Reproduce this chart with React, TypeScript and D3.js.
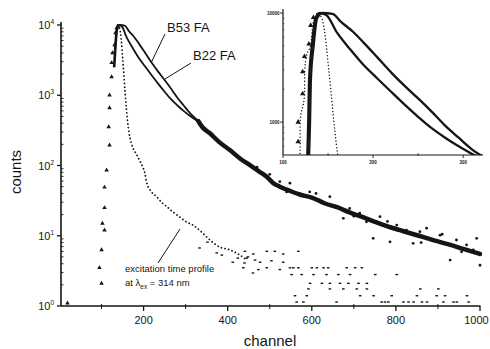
import React from 'react';
import * as d3 from 'd3';

const W = 490;
const H = 349;

// ---- data (channel, counts) ----
const xTicks = [200, 400, 600, 800, 1000];
const xMinorTicks = [100, 300, 500, 700, 900];
const yDecades = [0, 1, 2, 3, 4];

const b53Head: [number, number][] = [
  [129, 2500], [132, 5000], [136, 9000], [141, 10000], [148, 9600],
  [160, 6600], [175, 4600], [190, 3300], [205, 2500], [220, 1900], [235, 1450],
  [250, 1120], [265, 880], [280, 720], [295, 600], [310, 510], [330, 420],
];
const b22Head: [number, number][] = [
  [131, 2500], [134, 5000], [138, 9000], [144, 10000], [155, 9800],
  [165, 8200], [178, 6700], [190, 5300], [205, 3900], [221, 2800], [235, 2150],
  [250, 1650], [265, 1250], [280, 930], [295, 720], [310, 560], [330, 430],
];
const decayTail: [number, number][] = [
  [340, 350], [357, 290], [380, 215], [405, 166], [430, 125], [452, 102],
  [475, 82], [493, 69], [507, 57], [524, 50], [550, 43], [575, 38], [600, 35],
  [630, 29], [660, 25.5], [690, 21.5], [720, 18.5], [750, 15.8], [780, 13.6],
  [810, 12], [840, 10.6], [870, 9.4], [900, 8.3], [930, 7.4], [960, 6.5], [1000, 5.5],
];
const decayScatter: [number, number][] = [
  [524, 59], [548, 56], [571, 40], [595, 42], [619, 32], [643, 36], [659, 26],
  [675, 17.7], [690, 24.5], [714, 21], [730, 15.8], [746, 9.2], [762, 18.7],
  [786, 8.2], [802, 14.2], [825, 12], [841, 7.8], [857, 11.4], [873, 12.8],
  [885, 8.7], [905, 10.2], [929, 4.5], [944, 8.7], [956, 5.9], [968, 7.4],
  [984, 6.3], [1000, 3.8], [992, 9.2], [470, 95], [500, 75], [540, 42], [610, 40],
  [700, 19], [780, 16], [860, 8], [910, 10.5],
];

const excRise: [number, number][] = [
  [19, 1.1], [95, 3.5], [100, 2.1], [100, 6.3], [102, 15], [107, 12], [107, 25],
  [107, 49], [112, 86], [119, 195], [117, 355], [119, 660], [119, 1000],
  [124, 1820], [124, 2900], [126, 4000], [131, 5200], [133, 7700], [136, 9100],
];
const excFall: [number, number][] = [
  [138, 10000], [143, 9000], [147, 6000], [150, 3500], [153, 2000], [156, 1100],
  [159, 650], [162, 420], [166, 280], [170, 215], [176, 170], [183, 145],
  [190, 120], [198, 95], [203, 78], [207, 58], [219, 42], [231, 36], [245, 29],
  [255, 26], [269, 22], [286, 18.5], [302, 15.7], [317, 14.2], [333, 12],
  [350, 9.6], [364, 8.1], [381, 6.9], [405, 6.3], [429, 5.3], [445, 4.5],
];
const excNoise: [number, number][] = [
  [333, 6.7], [352, 8.1], [374, 5.7], [386, 5.3], [412, 4.2], [424, 4.8],
  [440, 4.1], [448, 5], [460, 2.95],
  [441, 6], [461, 5.5], [493, 6], [512, 6], [532, 5.5], [568, 6],
  [445, 4.8], [465, 4.5], [477, 4.2], [504, 4.4], [532, 4.2],
  [437, 3.5], [473, 3.3], [493, 3.5], [524, 3.3], [548, 3.5], [556, 3.5],
  [568, 3.5], [600, 3.5], [612, 3.5], [628, 3.5], [639, 3.5], [683, 3.5],
  [703, 3.5], [719, 3.5],
  [552, 2.8], [576, 2.8], [604, 2.8], [635, 2.8], [663, 2.8], [691, 2.8],
  [751, 2.8], [802, 2.8],
  [596, 2.1], [624, 2.1], [643, 2.1], [667, 2.1], [687, 2.1], [711, 2.1], [731, 2.1],
  [592, 1.75], [643, 1.75], [675, 1.75], [707, 1.75], [731, 1.75], [858, 1.75], [901, 1.75],
  [560, 1.4], [588, 1.4], [715, 1.4], [747, 1.4], [790, 1.4], [850, 1.4],
  [897, 1.4], [917, 1.4], [969, 1.4],
  [564, 1.14], [580, 1.14], [659, 1.14], [766, 1.14], [774, 1.14], [782, 1.14],
  [818, 1.14], [830, 1.14], [842, 1.14], [862, 1.14], [874, 1.14], [913, 1.14],
  [937, 1.14], [945, 1.14], [973, 1.14],
];

const insetXTicks = [100, 200, 300];
const insetXMinor = [150, 250];
const insetYTicks = [1000, 10000];

const INK = '#151515';
const FONT = '"Liberation Sans", Arial, Helvetica, sans-serif';

export default function App() {
  // main scales
  const x = d3.scaleLinear().domain([0, 1000]).range([59.5, 480]);
  const y = d3.scaleLog().domain([1, 10000]).range([306, 25]);
  const line = d3.line<[number, number]>().x((d) => x(d[0])).y((d) => y(d[1])).curve(d3.curveMonotoneX);

  // inset scales
  const xi = d3.scaleLinear().domain([100, 322]).range([283, 483]);
  const yi = d3.scaleLog().domain([500, 10000]).range([155, 13]);
  const lineI = d3.line<[number, number]>().x((d) => xi(d[0])).y((d) => yi(d[1])).curve(d3.curveMonotoneX);

  const riseI: [number, number][] = [[126, 300], [128, 1000]];
  const b53 = [...riseI, ...b53Head, ...decayTail];
  const b22 = [[128, 300], [130, 1000], ...b22Head, ...decayTail] as [number, number][];
  const excAll = [...excRise.filter((d) => d[0] > 110).sort((a, b) => a[0] - b[0]), ...excFall];

  const tri = d3.symbol().type(d3.symbolTriangle).size(9)();
  const triS = d3.symbol().type(d3.symbolTriangle).size(12)();

  const minorY: number[] = [];
  for (let e = 0; e < 4; e++) for (let m = 2; m <= 9; m++) minorY.push(m * Math.pow(10, e));
  const minorYi: number[] = [];
  for (let m = 6; m <= 9; m++) minorYi.push(m * 100);
  for (let m = 2; m <= 9; m++) minorYi.push(m * 1000);

  return (
    <svg width={W} height={H} style={{ position: 'absolute', left: 0, top: 0, background: '#fff' }} fontFamily={FONT}>
      <defs>
        <clipPath id="insetClip">
          <rect x={283} y={6} width={202} height={149} />
        </clipPath>
      </defs>

      {/* ---------- main plot ---------- */}
      <path d={line(b53Head) || ''} fill="none" stroke={INK} strokeWidth={1.8} />
      <path d={line(b22Head) || ''} fill="none" stroke={INK} strokeWidth={1.8} />
      <path d={line([b22Head[b22Head.length - 1], ...decayTail]) || ''} fill="none" stroke={INK} strokeWidth={4.5} strokeLinecap="round" />
      {decayScatter.map((d, i) => (
        <circle key={'ds' + i} cx={x(d[0])} cy={y(d[1])} r={1.4} fill={INK} />
      ))}

      {/* excitation profile */}
      {excRise.map((d, i) => (
        <path key={'er' + i} d={tri} transform={`translate(${x(d[0])},${y(d[1])})`} fill={INK} />
      ))}
      <path d={line(excFall) || ''} fill="none" stroke={INK} strokeWidth={1.8} strokeDasharray="0.1 3.6" strokeLinecap="round" />
      {excNoise.map((d, i) => (
        <rect key={'en' + i} x={x(d[0]) - 1.3} y={y(d[1]) - 0.7} width={2.6} height={1.4} fill={INK} />
      ))}

      {/* axes */}
      <line x1={61} x2={61} y1={22} y2={306} stroke={INK} strokeWidth={1.6} />
      <line x1={61} x2={480.5} y1={306} y2={306} stroke={INK} strokeWidth={1.6} />
      {yDecades.map((e) => (
        <g key={'yd' + e}>
          <line x1={57} x2={61} y1={y(Math.pow(10, e))} y2={y(Math.pow(10, e))} stroke={INK} strokeWidth={1.3} />
          <text x={54} y={y(Math.pow(10, e)) + 4} textAnchor="end" fontSize={11} fill={INK}>
            10<tspan dy={-5} fontSize={6.5}>{e}</tspan>
          </text>
        </g>
      ))}
      {minorY.map((v, i) => (
        <line key={'ym' + i} x1={61} x2={63.5} y1={y(v)} y2={y(v)} stroke={INK} strokeWidth={0.9} />
      ))}
      {xTicks.map((t) => (
        <g key={'xt' + t}>
          <line x1={x(t)} x2={x(t)} y1={306} y2={311} stroke={INK} strokeWidth={1.3} />
          <text x={Math.min(x(t), 476.5)} y={324} textAnchor="middle" fontSize={11} fill={INK}>{t}</text>
        </g>
      ))}
      {xMinorTicks.map((t) => (
        <line key={'xm' + t} x1={x(t)} x2={x(t)} y1={304} y2={309} stroke={INK} strokeWidth={1} />
      ))}
      <text x={270} y={346} textAnchor="middle" fontSize={15} fill={INK}>channel</text>
      <text transform="translate(21,172) rotate(-90)" textAnchor="middle" fontSize={15} fill={INK}>counts</text>

      {/* annotations */}
      <text x={167} y={32} fontSize={13} fill={INK}>B53 FA</text>
      <line x1={165} y1={34} x2={151} y2={63} stroke={INK} strokeWidth={1} />
      <text x={193} y={60} fontSize={13} fill={INK}>B22 FA</text>
      <line x1={191} y1={63} x2={165} y2={79} stroke={INK} strokeWidth={1} />
      <text x={125} y={272} fontSize={9.5} fill={INK}>excitation time profile</text>
      <text x={125} y={286} fontSize={9.5} fill={INK}>
        at λ<tspan dy={2.5} fontSize={6.5}>ex</tspan><tspan dy={-2.5}> = 314 nm</tspan>
      </text>
      <line x1={158} y1={263} x2={180} y2={229} stroke={INK} strokeWidth={1} />

      {/* ---------- inset ---------- */}
      <g clipPath="url(#insetClip)">
        <path d={lineI(b53) || ''} fill="none" stroke={INK} strokeWidth={2.3} />
        <path d={lineI(b22) || ''} fill="none" stroke={INK} strokeWidth={2.3} />
        <path d={lineI(excAll) || ''} fill="none" stroke={INK} strokeWidth={1.4} strokeDasharray="0.1 3.2" strokeLinecap="round" />
        {excRise.map((d, i) => (
          <path key={'eri' + i} d={triS} transform={`translate(${xi(d[0]) - 2},${yi(d[1])})`} fill={INK} />
        ))}
      </g>
      <line x1={283} x2={283} y1={9} y2={155} stroke={INK} strokeWidth={1.2} />
      <line x1={283} x2={483} y1={155} y2={155} stroke={INK} strokeWidth={1.2} />
      {insetYTicks.map((t) => (
        <g key={'iy' + t}>
          <line x1={280} x2={283} y1={yi(t)} y2={yi(t)} stroke={INK} strokeWidth={0.9} />
          <text x={279.5} y={yi(t) + 1.5} textAnchor="end" fontSize={4.5} fontWeight="bold" fill={INK}>{t}</text>
        </g>
      ))}
      {minorYi.map((v, i) => (
        <line key={'iym' + i} x1={283} x2={284.5} y1={yi(v)} y2={yi(v)} stroke={INK} strokeWidth={0.5} />
      ))}
      {insetXTicks.map((t) => (
        <g key={'ix' + t}>
          <line x1={xi(t)} x2={xi(t)} y1={155} y2={158} stroke={INK} strokeWidth={0.9} />
          <text x={xi(t)} y={164} textAnchor="middle" fontSize={4.5} fontWeight="bold" fill={INK}>{t}</text>
        </g>
      ))}
      {insetXMinor.map((t) => (
        <line key={'ixm' + t} x1={xi(t)} x2={xi(t)} y1={153} y2={156} stroke={INK} strokeWidth={0.7} />
      ))}
    </svg>
  );
}
